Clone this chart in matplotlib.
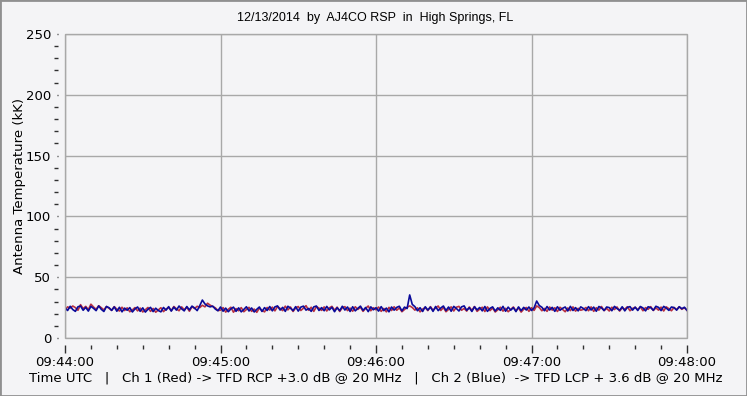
import matplotlib
matplotlib.use("Agg")
import matplotlib.pyplot as plt
from matplotlib.patches import Rectangle
from matplotlib.ticker import MultipleLocator

# seconds after 09:44:00, one sample per second
seconds = list(range(241))

ch2_blue = [
    24.8, 22.6, 26.1, 23.4, 21.9, 25.7, 26.3, 22.8, 25.2, 22.1, 26.0, 24.4, 22.5, 26.4, 23.6, 21.8, 25.9, 24.9, 22.7, 25.6,
    22.0, 25.3, 21.5, 24.6, 22.8, 25.0, 21.4, 23.9, 25.5, 21.9, 24.8, 21.3, 23.6, 25.2, 21.7, 24.5, 22.6, 21.5, 25.1, 22.9,
    25.8, 22.1, 25.4, 22.9, 26.3, 24.0, 22.3, 25.9, 23.1, 26.2, 24.7, 22.5, 26.6, 31.2, 28.0, 26.4, 25.6, 26.2, 23.8, 22.4,
    25.5, 22.0, 24.6, 21.6, 23.9, 25.4, 21.9, 24.8, 21.5, 23.5, 25.7, 22.2, 24.7, 21.4, 23.6, 25.5, 21.8, 25.0, 22.6, 25.9,
    22.3, 25.6, 26.4, 23.0, 25.2, 21.9, 26.1, 24.5, 22.5, 25.8, 22.1, 25.4, 26.2, 22.9, 24.3, 21.9, 25.6, 26.3, 22.6, 25.0,
    22.4, 26.0, 23.1, 25.3, 21.6, 24.9, 22.5, 26.1, 23.0, 25.5, 21.8, 25.7, 22.3, 24.4, 26.2, 22.7, 25.1, 21.7, 25.6, 23.2,
    24.9, 22.1, 25.8, 22.5, 24.6, 21.5, 25.5, 22.9, 25.2, 26.1, 22.3, 25.4, 24.2, 35.4, 27.6, 25.8, 22.4, 24.9, 21.8, 25.7,
    23.0, 25.4, 21.9, 25.9, 22.5, 24.7, 26.3, 22.6, 25.5, 22.0, 26.0, 24.3, 22.2, 25.6, 26.4, 22.8, 24.9, 21.8, 25.7, 23.1,
    25.1, 22.3, 25.9, 21.9, 24.4, 25.6, 22.2, 24.8, 22.7, 26.0, 22.0, 25.4, 22.9, 25.0, 21.7, 25.6, 22.5, 25.2, 23.0, 25.5,
    22.6, 24.8, 30.4, 26.7, 25.3, 22.4, 25.9, 23.0, 25.2, 21.9, 25.7, 22.8, 24.4, 25.5, 22.2, 26.0, 22.6, 25.0, 22.3, 25.6,
    24.3, 22.5, 25.8, 23.0, 25.4, 22.0, 25.9, 24.8, 22.6, 25.5, 25.0, 22.4, 26.0, 24.2, 22.8, 25.7, 22.3, 25.2, 25.8, 22.9,
    25.4, 22.6, 25.9, 24.7, 22.3, 25.7, 25.0, 22.8, 26.1, 25.2, 22.5, 26.0, 24.6, 22.7, 25.5, 25.0, 22.9, 25.7, 24.1, 25.3,
    22.8,
]

ch1_red = [
    22.9, 25.6, 24.6, 26.3, 25.0, 22.8, 27.4, 24.2, 26.0, 23.3, 27.8, 25.5, 23.6, 26.5, 24.9, 23.1, 25.9, 24.4, 22.7, 25.8,
    23.7, 22.2, 25.3, 22.6, 24.8, 21.6, 23.1, 25.0, 22.3, 24.6, 21.4, 23.3, 25.1, 21.9, 24.3, 21.2, 23.0, 24.9, 21.7, 23.8,
    25.1, 22.5, 25.9, 24.0, 22.4, 25.6, 23.2, 25.3, 22.0, 25.8, 24.2, 26.1, 25.0, 26.9, 25.6, 28.6, 27.0, 25.9, 24.8, 22.6,
    22.9, 25.0, 21.3, 23.6, 25.3, 21.2, 24.2, 22.4, 25.0, 21.6, 23.4, 25.2, 21.9, 23.8, 21.1, 24.6, 22.7, 21.5, 25.1, 23.0,
    25.4, 22.3, 25.9, 24.3, 22.5, 26.2, 23.1, 25.5, 21.8, 24.7, 25.9, 22.6, 24.5, 26.6, 22.8, 25.3, 21.9, 25.8, 24.6, 22.7,
    25.6, 22.2, 24.8, 26.0, 22.9, 25.4, 21.8, 24.9, 25.8, 22.5, 24.6, 22.0, 25.7, 23.5, 25.3, 21.9, 24.4, 26.3, 22.4, 24.9,
    23.2, 25.5, 21.9, 24.3, 21.5, 25.2, 22.6, 25.7, 22.8, 24.8, 21.6, 23.4, 25.3, 26.4, 25.1, 22.9, 24.8, 21.5, 23.8, 25.0,
    22.5, 25.8, 22.9, 24.7, 26.3, 22.6, 25.1, 21.6, 23.5, 25.6, 22.2, 25.3, 26.0, 22.8, 24.3, 22.1, 25.5, 22.7, 25.9, 21.9,
    23.7, 25.3, 21.8, 25.6, 22.5, 24.7, 21.4, 23.2, 25.3, 22.1, 24.4, 21.6, 23.6, 25.5, 22.4, 24.8, 21.3, 23.7, 25.1, 21.9,
    24.9, 22.7, 26.4, 25.0, 22.4, 24.3, 21.9, 25.5, 22.9, 24.9, 21.8, 25.3, 23.4, 21.6, 24.7, 22.5, 25.6, 22.1, 24.4, 22.8,
    23.5, 25.1, 22.4, 25.6, 21.9, 24.9, 22.9, 25.9, 22.5, 24.3, 22.2, 25.3, 23.4, 25.5, 22.1, 24.8, 23.7, 25.7, 22.4, 24.3,
    25.2, 23.3, 25.6, 22.4, 25.0, 23.6, 25.8, 22.6, 24.8, 22.9, 25.4, 22.2, 25.6, 24.1, 22.4, 25.1, 23.3, 25.7, 23.6, 24.9,
    22.7,
]

time_ticks = [0, 60, 120, 180, 240]
time_labels = ["09:44:00", "09:45:00", "09:46:00", "09:47:00", "09:48:00"]

bg = "#f4f4f6"
grid_c = "#a8a8a8"

fig = plt.figure(figsize=(7.47, 3.96), dpi=100, facecolor=bg)
ax = fig.add_axes([65 / 747, 58 / 396, 622 / 747, 304 / 396])
ax.set_facecolor(bg)

ax.plot(seconds, ch1_red, color="#b83040", lw=1.2)
ax.plot(seconds, ch2_blue, color="#0a0a9a", lw=1.2)

ax.set_xlim(0, 240)
ax.set_ylim(0, 250)

ax.set_xticks(time_ticks)
ax.set_xticklabels(time_labels)
ax.xaxis.set_minor_locator(MultipleLocator(10))
ax.yaxis.set_major_locator(MultipleLocator(50))
ax.yaxis.set_minor_locator(MultipleLocator(10))

ax.grid(True, which="major", color=grid_c, lw=1)

for s in ax.spines.values():
    s.set_visible(False)
ax.spines["left"].set_position(("outward", 5))
ax.spines["bottom"].set_position(("outward", 5))
ax.add_patch(Rectangle((0, 0), 1, 1, transform=ax.transAxes, fill=False,
                       ec=grid_c, lw=1, clip_on=False, zorder=3))

ax.tick_params(axis="x", which="major", direction="out", length=6, width=1, pad=2,
               labelsize=9.5, color="#303030")
ax.tick_params(axis="x", which="minor", direction="out", length=3, width=1, color="#303030")
ax.tick_params(axis="y", which="major", direction="out", length=1, width=1, pad=4,
               labelsize=9.5, color="#303030")
ax.tick_params(axis="y", which="minor", direction="out", length=3, width=1, color="#303030")

ax.set_ylabel("Antenna Temperature (kK)", fontsize=9.5, labelpad=0)
ax.set_xlabel("Time UTC   |   Ch 1 (Red) -> TFD RCP +3.0 dB @ 20 MHz   |   Ch 2 (Blue)  -> TFD LCP + 3.6 dB @ 20 MHz",
              fontsize=9.5, labelpad=2)
fig.text(375 / 747, 1 - 18 / 396, "12/13/2014  by  AJ4CO RSP  in  High Springs, FL",
         ha="center", va="center", fontsize=9, family="Liberation Sans")

fig.patches.append(Rectangle((0, 0), 1, 1, transform=fig.transFigure, fill=False,
                             ec="#909090", lw=2))

fig.savefig("out.png", dpi=100, facecolor=bg)
